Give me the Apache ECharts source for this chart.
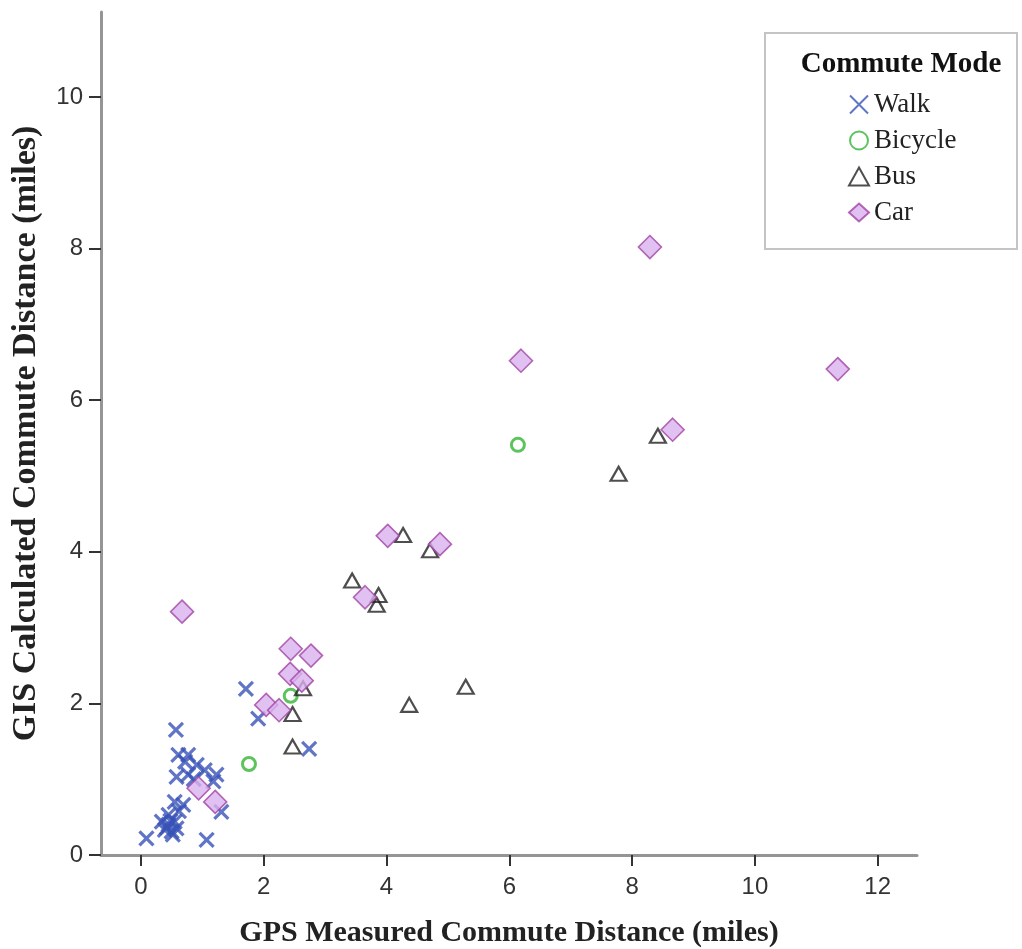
<!DOCTYPE html>
<html><head><meta charset="utf-8">
<script src="https://cdn.jsdelivr.net/npm/echarts@6/dist/echarts.min.js"></script>
<style>html,body{margin:0;padding:0;background:#fff}#c{width:1022px;height:949px}</style>
</head><body><div id="c"></div>
<script>
const xTicks = [0, 2, 4, 6, 8, 10, 12];
const yTicks = [0, 2, 4, 6, 8, 10];
const seriesNames = ['Walk', 'Bicycle', 'Bus', 'Car'];
const walkPts = [[1.71,2.19],[1.91,1.80],[2.74,1.40],[0.57,1.65],[0.61,1.32],[0.77,1.32],[0.72,1.23],[0.91,1.19],[0.58,1.03],[0.77,1.06],[1.04,1.12],[1.23,1.06],[1.18,0.97],[0.86,1.00],[0.55,0.70],[0.69,0.66],[1.31,0.57],[0.45,0.40],[0.34,0.44],[0.55,0.44],[0.39,0.33],[0.50,0.31],[0.58,0.35],[0.45,0.53],[0.48,0.45],[0.42,0.36],[0.09,0.22],[1.07,0.20],[0.62,0.58],[0.52,0.27]];
const bicyclePts = [[6.14,5.41],[2.44,2.10],[1.76,1.20]];
const busPts = [[7.78,5.03],[8.42,5.53],[4.27,4.22],[4.71,4.02],[3.44,3.62],[3.87,3.43],[3.84,3.30],[2.64,2.20],[2.47,1.86],[2.47,1.43],[4.37,1.98],[5.29,2.22]];
const carPts = [[8.29,8.02],[11.35,6.41],[6.19,6.52],[8.66,5.61],[4.02,4.21],[4.87,4.10],[3.65,3.40],[0.67,3.21],[2.44,2.72],[2.77,2.63],[2.43,2.39],[2.62,2.30],[2.04,1.98],[2.25,1.91],[0.94,0.88],[1.21,0.70]];

const chart = echarts.init(document.getElementById('c'));
const axisFont = {fontFamily: "'Liberation Sans Narrow','Liberation Sans',Arial", fontSize: 24, color: '#333'};
const serif = "'Liberation Serif','Times New Roman',serif";
chart.setOption({
  animation: false,
  backgroundColor: '#fff',
  grid: {left: 101, top: 12, right: 105, bottom: 94, containLabel: false, outerBoundsMode: 'none'},
  xAxis: {
    type: 'value', min: -0.65, max: 12.64,
    name: 'GPS Measured Commute Distance (miles)', nameLocation: 'middle', nameGap: 63,
    nameTextStyle: {fontFamily: serif, fontWeight: 'bold', fontSize: 30, color: '#222'},
    splitLine: {show: false},
    axisLine: {show: true, onZero: false, lineStyle: {color: '#959595', width: 3}},
    axisTick: {show: true, length: 11, customValues: xTicks, lineStyle: {color: '#333', width: 2}},
    axisLabel: Object.assign({customValues: xTicks, margin: 20}, axisFont)
  },
  yAxis: {
    type: 'value', min: 0, max: 11.12,
    name: 'GIS Calculated Commute Distance (miles)', nameLocation: 'middle', nameGap: 58,
    nameTextStyle: {fontFamily: serif, fontWeight: 'bold', fontSize: 34, color: '#222'},
    splitLine: {show: false},
    axisLine: {show: true, onZero: false, lineStyle: {color: '#959595', width: 3}},
    axisTick: {show: true, length: 12, customValues: yTicks, lineStyle: {color: '#333', width: 2}},
    axisLabel: Object.assign({customValues: yTicks, margin: 18}, axisFont)
  },
  graphic: [
    {type: 'rect', z: 0, left: 764, top: 32, shape: {width: 252, height: 216},
     style: {fill: '#fff', stroke: '#c4c4c4', lineWidth: 2}},
    {type: 'text', z: 1, x: 901, y: 65, style: {text: 'Commute Mode', align: 'center', verticalAlign: 'middle',
      font: "bold 29px 'Liberation Serif', serif", fill: '#111'}}
  ],
  legend: {
    orient: 'vertical', left: 843, top: 86, itemGap: 9, itemWidth: 20, itemHeight: 18,
    data: seriesNames,
    textStyle: {fontFamily: serif, fontSize: 27, color: '#222', padding: [0,0,0,0]}
  },
  series: [
    {name: seriesNames[0], type: 'scatter', data: walkPts, symbol: 'path://M0,0L10,10M10,0L0,10', symbolSize: 14,
     itemStyle: {color: 'transparent', borderColor: '#3852b8', borderWidth: 3.2}},
    {name: seriesNames[1], type: 'scatter', data: bicyclePts, symbol: 'circle', symbolSize: 13,
     itemStyle: {color: 'transparent', borderColor: '#35b535', borderWidth: 3}},
    {name: seriesNames[2], type: 'scatter', data: busPts, symbol: 'triangle', symbolSize: [16, 14],
     itemStyle: {color: 'transparent', borderColor: '#222', borderWidth: 2.2}},
    {name: seriesNames[3], type: 'scatter', data: carPts, symbol: 'diamond', symbolSize: [23, 23],
     itemStyle: {color: '#d9b2ee', borderColor: '#a044a4', borderWidth: 1.6}}
  ]
});
</script></body></html>
